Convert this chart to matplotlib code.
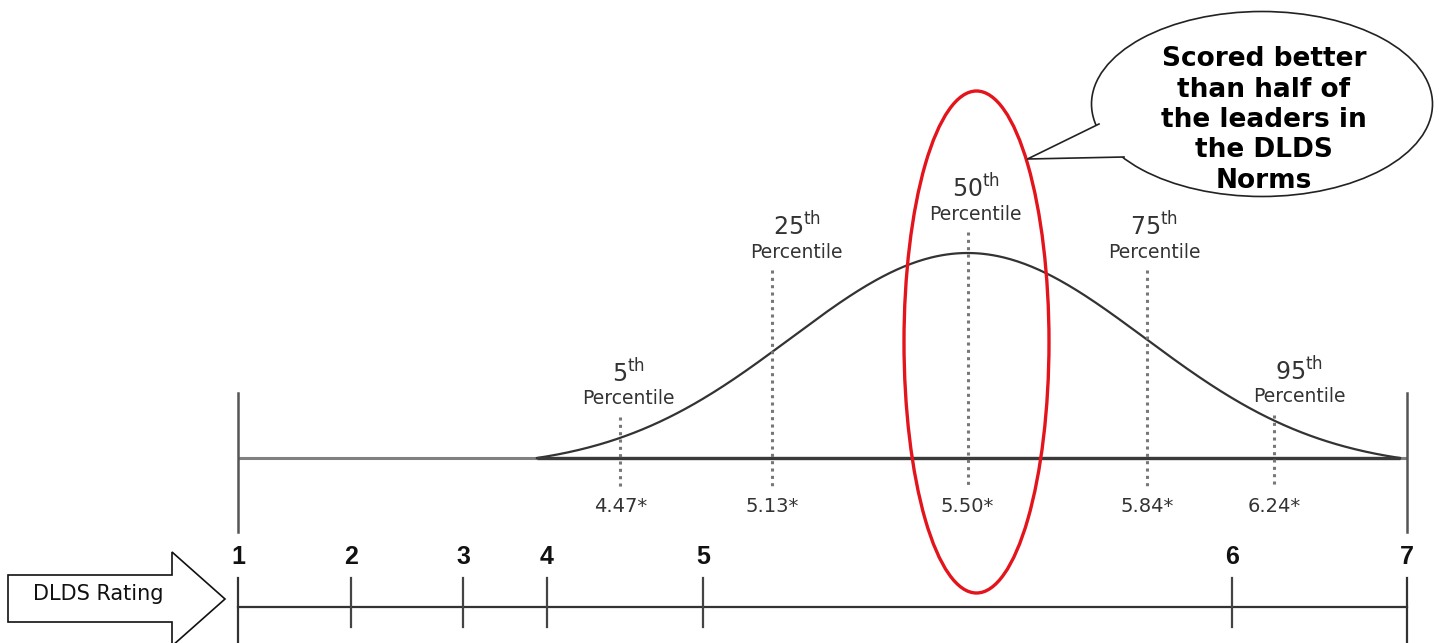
import matplotlib
matplotlib.use("Agg")
import matplotlib.pyplot as plt
import matplotlib.transforms as mtrans
import numpy as np
from matplotlib.patches import Ellipse, Polygon

# 数据
ratings = [1, 2, 3, 4, 5, 6, 7]
pct_names = ['5', '25', '50', '75', '95']
pct_scores = [4.47, 5.13, 5.50, 5.84, 6.24]
pct_values = ['4.47*', '5.13*', '5.50*', '5.84*', '6.24*']
highlight = 5.50
axis_title = 'DLDS Rating'
callout_text = 'Scored better\nthan half of\nthe leaders in\nthe DLDS\nNorms'

# 版面: 原图的刻度不是等距的, 每个评分所在的像素列
tick_px = np.array([238, 351, 463, 547, 703, 1232, 1407], float)
W, H = 1439, 643
base_y = 458      # 分布曲线的基线
peak_h = 205      # 曲线高度
axis_y = 607      # 下方评分轴
label_top = [417, 270, 232, 270, 415]   # 虚线上端
label_dx = [8, 25, 8, 7, 25]            # 标签相对虚线的水平偏移

r_arr = np.array(ratings, float)
slope_lo = tick_px[1] - tick_px[0]
slope_hi = tick_px[-1] - tick_px[-2]


def fwd(r):
    r = np.asarray(r, float)
    out = np.interp(r, r_arr, tick_px)
    out = np.where(r < r_arr[0], tick_px[0] + (r - r_arr[0]) * slope_lo, out)
    out = np.where(r > r_arr[-1], tick_px[-1] + (r - r_arr[-1]) * slope_hi, out)
    return out


def inv(p):
    p = np.asarray(p, float)
    out = np.interp(p, tick_px, r_arr)
    out = np.where(p < tick_px[0], r_arr[0] + (p - tick_px[0]) / slope_lo, out)
    out = np.where(p > tick_px[-1], r_arr[-1] + (p - tick_px[-1]) / slope_hi, out)
    return out


fig = plt.figure(figsize=(W / 100, H / 100), dpi=100)
ax = fig.add_axes([0, 0, 1, 1])
ax.set_xscale('function', functions=(fwd, inv))
ax.set_xlim(float(inv(0)), float(inv(W)))
ax.set_ylim(H, 0)
ax.axis('off')

# 叠加一个像素坐标的轴, 用于箭头和对话框
lay = fig.add_axes([0, 0, 1, 1])
lay.set_xlim(0, W)
lay.set_ylim(H, 0)
lay.axis('off')
lay.patch.set_alpha(0)

# 上方基线和两端竖线
ax.plot([ratings[0], ratings[-1]], [base_y, base_y], color='#808080', lw=2.2,
        solid_capstyle='butt')
for r in (ratings[0], ratings[-1]):
    ax.plot([r, r], [393, 532], color='#555555', lw=1.8)
    ax.plot([r, r], [578, H], color='#333333', lw=1.6)

# 下方评分轴
ax.plot([ratings[0], ratings[-1]], [axis_y, axis_y], color='#333333', lw=1.6)
for r in ratings[1:-1]:
    ax.plot([r, r], [578, 627], color='#444444', lw=1.6)
for r in ratings:
    ax.text(r, 557, str(r), ha='center', va='center', fontsize=18,
            fontweight='bold', family='Liberation Sans', color='#111111')

# 分布曲线
c_lo, c_pk, c_hi = 3.88, highlight, 6.96
px = np.linspace(fwd(c_lo), fwd(c_hi), 500)
pk = float(fwd(c_pk))
half = np.where(px < pk, pk - fwd(c_lo), fwd(c_hi) - pk)
u = (px - pk) / half
s = 0.41
e0 = np.exp(-1 / (2 * s * s))
g = (np.exp(-u ** 2 / (2 * s * s)) - e0) / (1 - e0)
ax.plot(inv(px), base_y - peak_h * g, color='#333333', lw=1.6)
ax.plot([c_lo, c_hi], [base_y, base_y], color='#3a3a3a', lw=2.4,
        solid_capstyle='butt')

# 百分位虚线和标签
for name, sc, val, top, dx in zip(pct_names, pct_scores, pct_values,
                                   label_top, label_dx):
    ax.plot([sc, sc], [top, 488], color='#777777', lw=2.2,
            linestyle=(0, (1, 1.4)))
    tr = mtrans.offset_copy(ax.transData, fig=fig, x=dx, y=0, units='dots')
    ax.text(sc, top - 44, r'$\mathregular{' + name + '^{th}}$', transform=tr,
            ha='center', va='center', fontsize=17, color='#333333')
    ax.text(sc, top - 18, 'Percentile', transform=tr, ha='center',
            va='center', fontsize=13.5, color='#333333')
    ax.text(sc, 507, val, ha='center', va='center', fontsize=14,
            color='#333333')

# 红色椭圆
hx = float(fwd(highlight)) + 9
lay.add_patch(Ellipse((hx, 342), 145, 502, fill=False, edgecolor='#e3141c',
                      lw=2.4, zorder=5))

# 对话框
lay.add_patch(Ellipse((1262, 104), 341, 185, facecolor='white',
                      edgecolor='#222222', lw=1.2, zorder=6))
tail = [(1099, 124), (hx + 51, 159), (1124, 157)]
lay.add_patch(Polygon(tail, closed=True, facecolor='white',
                      edgecolor='none', zorder=7))
lay.plot([tail[0][0], tail[1][0], tail[2][0]],
         [tail[0][1], tail[1][1], tail[2][1]], color='#222222', lw=1.2,
         zorder=8)
lay.text(1264, 120, callout_text, ha='center', va='center', fontsize=19,
         fontweight='bold', linespacing=1.22, color='black', zorder=9)

# 左侧箭头
arrow = [(8, 575), (172, 575), (172, 552), (225, 599), (172, 646),
         (172, 622), (8, 622)]
lay.add_patch(Polygon(arrow, closed=True, facecolor='white',
                      edgecolor='#111111', lw=1.2, zorder=4))
lay.text(98, 594, axis_title, ha='center', va='center', fontsize=15,
         color='#111111', zorder=5)

fig.savefig('out.png', dpi=100)
